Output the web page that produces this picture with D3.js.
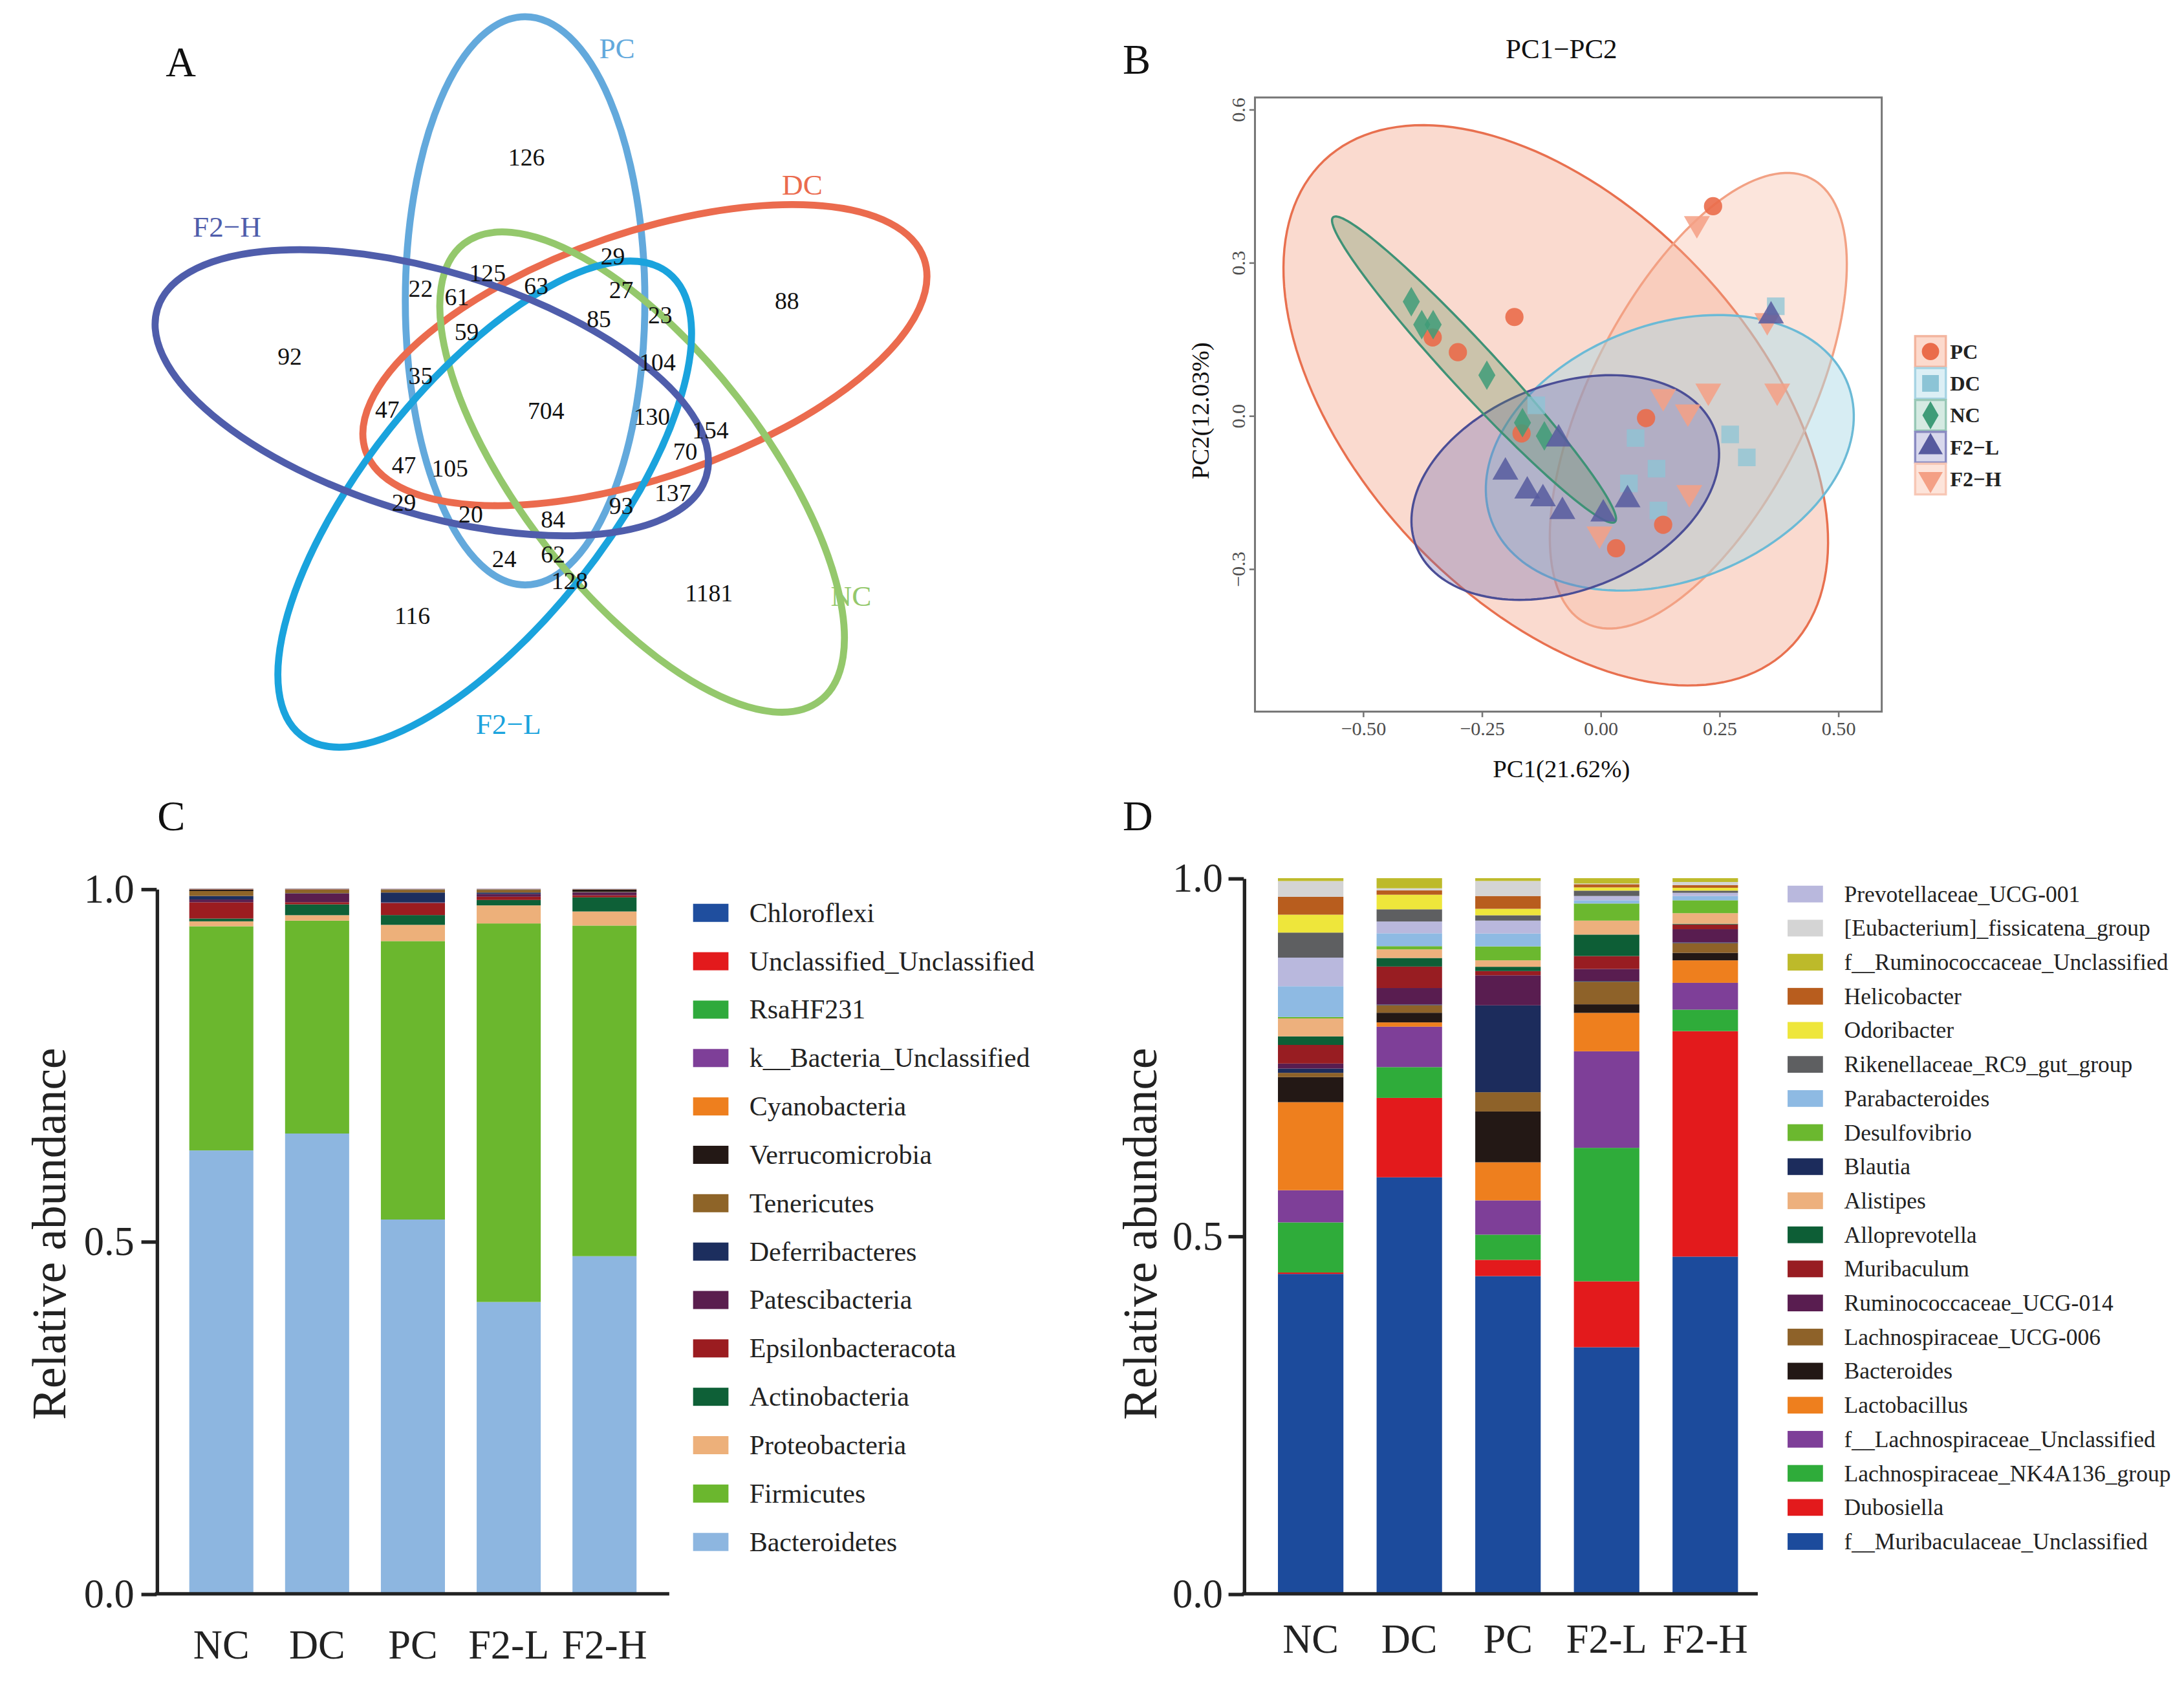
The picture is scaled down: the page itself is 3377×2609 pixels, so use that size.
<!DOCTYPE html>
<html>
<head>
<meta charset="utf-8">
<script src="https://cdn.jsdelivr.net/npm/d3@7"></script>
<style>
  body { margin: 0; background: #fff; }
</style>
</head>
<body>
<svg id="figure"></svg>
<script>
// ---------- data ----------
// A: Venn
var vennSets = ["PC", "DC", "NC", "F2\u2212L", "F2\u2212H"];
var vennColors = ["#63A9DC", "#EB6B4E", "#94C86C", "#1AA3DD", "#4F5DAB"];
var vennCounts = [126, 88, 1181, 116, 92, 29, 125, 22, 61, 63, 27, 85, 23, 59, 104,
                  35, 47, 704, 130, 154, 70, 47, 105, 137, 29, 20, 84, 93, 24, 62, 128];

// B: PCA
var pcaGroups = ["PC", "DC", "NC", "F2\u2212L", "F2\u2212H"];
var pcaPC  = [[0.237, 0.410], [-0.181, 0.193], [-0.353, 0.153], [-0.300, 0.124],
              [0.096, -0.005], [-0.166, -0.035], [0.132, -0.214], [0.033, -0.260]];
var pcaDC  = [[0.369, 0.214], [-0.135, 0.020], [0.074, -0.044], [0.273, -0.037],
              [0.308, -0.082], [0.118, -0.104], [0.060, -0.133], [0.122, -0.186]];
var pcaNC  = [[-0.398, 0.223], [-0.376, 0.178], [-0.352, 0.178], [-0.239, 0.079],
              [-0.164, -0.014], [-0.118, -0.040]];
var pcaF2L = [[0.359, 0.195], [-0.088, -0.046], [-0.200, -0.111], [-0.154, -0.148],
              [-0.121, -0.163], [-0.080, -0.188], [0.006, -0.193], [0.057, -0.165]];
var pcaF2H = [[0.203, 0.376], [0.132, 0.037], [0.227, 0.048], [0.372, 0.048],
              [0.184, 0.007], [0.187, -0.151], [-0.002, -0.232], [0.351, 0.186]];
// confidence ellipses: centre and two conjugate semi-axes (data units)
var ellPC  = {cx: -0.094, cy: 0.020,  ax: 0.487,  ay: -0.480, bx: -0.302, by: -0.266};
var ellDC  = {cx: 0.146,  cy: -0.073, ax: 0.375,  ay: 0.134,  bx: 0.0964, by: -0.2343};
var ellNC  = {cx: -0.266, cy: 0.090,  ax: 0.2966, ay: -0.2983, bx: -0.0366, by: -0.0314};
var ellF2L = {cx: -0.074, cy: -0.141, ax: 0.3139, ay: 0.1145, bx: 0.0791, by: -0.1879};
var ellF2H = {cx: 0.206,  cy: 0.029,  ax: 0.2365, ay: 0.4358, bx: 0.2043, by: -0.0960};

// C: phylum level (stack order, bottom -> top)
var groups = ["NC", "DC", "PC", "F2-L", "F2-H"];
var phyla = ["Bacteroidetes", "Firmicutes", "Proteobacteria", "Actinobacteria", "Epsilonbacteracota",
             "Patescibacteria", "Deferribacteres", "Tenericutes", "Verrucomicrobia", "Cyanobacteria",
             "k__Bacteria_Unclassified", "RsaHF231", "Unclassified_Unclassified", "Chloroflexi"];
var phylaColors = ["#8DB6E0", "#6BB72E", "#EDB07A", "#0E6037", "#9B1C20", "#5A1E4E", "#1C2E5E",
                   "#8E6428", "#231815", "#EE7F1E", "#7E3F98", "#2FAA3C", "#E31A1C", "#1F4E9E"];
var cNC  = [0.629, 0.318, 0.007, 0.004, 0.023, 0.004, 0.005, 0.007, 0.002, 0.0005, 0.0003, 0.0002, 0.0002, 0.0002];
var cDC  = [0.653, 0.302, 0.0077, 0.0154, 0.003, 0.0123, 0.0005, 0.005, 0.0003, 0.0003, 0.0003, 0.0002, 0.0002, 0.0002];
var cPC  = [0.531, 0.395, 0.023, 0.0139, 0.017, 0.001, 0.014, 0.0037, 0.0003, 0.0003, 0.0003, 0.0002, 0.0002, 0.0002];
var cF2L = [0.414, 0.537, 0.0256, 0.0077, 0.0046, 0.004, 0.002, 0.0037, 0.0003, 0.0003, 0.0003, 0.0002, 0.0002, 0.0002];
var cF2H = [0.479, 0.469, 0.020, 0.020, 0.003, 0.004, 0.0005, 0.0005, 0.0028, 0.0003, 0.0003, 0.0002, 0.0002, 0.0002];

// D: genus level (stack order, bottom -> top)
var genera = ["f__Muribaculaceae_Unclassified", "Dubosiella", "Lachnospiraceae_NK4A136_group",
              "f__Lachnospiraceae_Unclassified", "Lactobacillus", "Bacteroides", "Lachnospiraceae_UCG-006",
              "Blautia", "Ruminococcaceae_UCG-014", "Muribaculum", "Alloprevotella", "Alistipes",
              "Desulfovibrio", "Parabacteroides", "Prevotellaceae_UCG-001", "Rikenellaceae_RC9_gut_group",
              "Odoribacter", "Helicobacter", "[Eubacterium]_fissicatena_group", "f__Ruminococcaceae_Unclassified"];
var generaColors = ["#1C4B9C", "#E31A1C", "#2FAC3A", "#7E3F98", "#EE7F1E", "#231815", "#8E6229",
                    "#1C2C5C", "#591D50", "#981D22", "#0D5E36", "#EDB07D", "#6BB82F", "#8EBAE3",
                    "#B9B8DD", "#5E5F61", "#EEE63B", "#B85D1E", "#D4D4D4", "#BDBA2A"];
var generaLegend = ["Prevotellaceae_UCG-001", "[Eubacterium]_fissicatena_group", "f__Ruminococcaceae_Unclassified",
                    "Helicobacter", "Odoribacter", "Rikenellaceae_RC9_gut_group", "Parabacteroides",
                    "Desulfovibrio", "Blautia", "Alistipes", "Alloprevotella", "Muribaculum",
                    "Ruminococcaceae_UCG-014", "Lachnospiraceae_UCG-006", "Bacteroides", "Lactobacillus",
                    "f__Lachnospiraceae_Unclassified", "Lachnospiraceae_NK4A136_group", "Dubosiella",
                    "f__Muribaculaceae_Unclassified"];
var dNC  = [0.447, 0.002, 0.070, 0.045, 0.123, 0.035, 0.006, 0.006, 0.007, 0.026, 0.012, 0.025, 0.002, 0.043, 0.040, 0.035, 0.025, 0.025, 0.022, 0.004];
var dDC  = [0.582, 0.111, 0.043, 0.0565, 0.006, 0.0135, 0.0105, 0.001, 0.023, 0.030, 0.012, 0.012, 0.0045, 0.018, 0.0165, 0.017, 0.0204, 0.006, 0.003, 0.0141];
var dPC  = [0.444, 0.0227, 0.0352, 0.0479, 0.0532, 0.071, 0.0269, 0.1214, 0.042, 0.0059, 0.006, 0.009, 0.0195, 0.018, 0.018, 0.0075, 0.009, 0.0179, 0.021, 0.0039];
var dF2L = [0.3446, 0.0921, 0.1865, 0.1349, 0.0537, 0.012, 0.0315, 0.001, 0.0169, 0.018, 0.030, 0.0195, 0.0239, 0.0045, 0.006, 0.0075, 0.0045, 0.0045, 0.001, 0.0074];
var dF2H = [0.4712, 0.3151, 0.030, 0.0375, 0.0314, 0.0105, 0.0135, 0.001, 0.0185, 0.0066, 0.001, 0.0148, 0.018, 0.006, 0.0045, 0.003, 0.004, 0.0036, 0.0045, 0.0053];

// ---------- layout ----------
var FONT = '"Liberation Serif", "Times New Roman", Times, serif';
var svg = d3.select("#figure")
    .attr("width", 3377).attr("height", 2609)
    .attr("viewBox", "0 0 1568 1211.4")
    .style("font-family", FONT);
svg.append("rect").attr("width", 1568).attr("height", 1211.4).attr("fill", "#fff");

function panelLetter(t, x, y) {
    svg.append("text").attr("x", x).attr("y", y).attr("font-size", 30).attr("fill", "#111").text(t);
}
panelLetter("A", 119, 55);
panelLetter("B", 806, 53);
panelLetter("C", 113, 596);
panelLetter("D", 806, 596);

// ---------- A: Venn ----------
var vennShape = [
    {cx: 377, cy: 216, a: 204, b: 86, angle: 90},
    {cx: 463, cy: 255, a: 212, b: 88, angle: -19},
    {cx: 461, cy: 339, a: 208, b: 87, angle: 52},
    {cx: 348, cy: 362, a: 212, b: 87, angle: -51.5},
    {cx: 310, cy: 282, a: 206, b: 87, angle: 17}
];
var vennNamePos = [[443, 35], [576, 133], [611, 428], [365, 520], [163, 163]];
var vennCountPos = [[378, 113], [565, 216], [509, 426], [296, 442], [208, 256],
    [440, 184], [350, 196], [302, 207], [328, 213], [385, 205], [446, 208], [430, 229],
    [474, 226], [335, 238], [472, 260], [302, 270], [278, 294], [392, 295], [468, 299],
    [510, 309], [492, 324], [290, 334], [323, 336], [483, 354], [290, 361], [338, 369],
    [397, 373], [446, 363], [362, 401], [397, 398], [409, 417]];

var venn = svg.append("g");
venn.selectAll("ellipse").data(vennShape).join("ellipse")
    .attr("cx", d => d.cx).attr("cy", d => d.cy)
    .attr("rx", d => d.a).attr("ry", d => d.b)
    .attr("transform", d => "rotate(" + d.angle + " " + d.cx + " " + d.cy + ")")
    .attr("fill", "none")
    .attr("stroke", (d, i) => vennColors[i])
    .attr("stroke-width", 5);
venn.selectAll("text.name").data(vennSets).join("text").attr("class", "name")
    .attr("x", (d, i) => vennNamePos[i][0]).attr("y", (d, i) => vennNamePos[i][1])
    .attr("text-anchor", "middle").attr("dominant-baseline", "central")
    .attr("font-size", 21).attr("fill", (d, i) => vennColors[i])
    .text(d => d);
venn.selectAll("text.count").data(vennCounts).join("text").attr("class", "count")
    .attr("x", (d, i) => vennCountPos[i][0]).attr("y", (d, i) => vennCountPos[i][1])
    .attr("text-anchor", "middle").attr("dominant-baseline", "central")
    .attr("font-size", 17.5).attr("fill", "#111")
    .text(d => d);

// ---------- B: PCA ----------
var bx = d3.scaleLinear().domain([-0.727, 0.592]).range([901, 1351]);
var by = d3.scaleLinear().domain([-0.580, 0.623]).range([511, 70]);
var pca = svg.append("g");

var ellipses = [
    {e: ellPC,  fill: "#F2997A", fo: 0.36, stroke: "#E8704F"},
    {e: ellF2H, fill: "#F7B49C", fo: 0.35, stroke: "#F2A184"},
    {e: ellDC,  fill: "#A6D6E5", fo: 0.45, stroke: "#6BBAD6"},
    {e: ellF2L, fill: "#6C68AC", fo: 0.33, stroke: "#4B4E96"},
    {e: ellNC,  fill: "#5F8E58", fo: 0.30, stroke: "#3E9276"}
];
var ellLine = d3.line().curve(d3.curveLinearClosed);
function ellPath(e) {
    var pts = d3.range(160).map(function (i) {
        var t = i / 160 * 2 * Math.PI;
        return [bx(e.cx + e.ax * Math.cos(t) + e.bx * Math.sin(t)),
                by(e.cy + e.ay * Math.cos(t) + e.by * Math.sin(t))];
    });
    return ellLine(pts);
}
pca.selectAll("path.ell").data(ellipses).join("path").attr("class", "ell")
    .attr("d", d => ellPath(d.e))
    .attr("fill", d => d.fill).attr("fill-opacity", d => d.fo)
    .attr("stroke", d => d.stroke).attr("stroke-width", 1.6);

var pointSets = [
    {pts: pcaF2H, type: d3.symbolTriangle, size: 150, rot: 180, color: "#F4A085", op: 0.85},
    {pts: pcaDC,  type: d3.symbolSquare,   size: 160, rot: 0,   color: "#8CC4D6", op: 0.75},
    {pts: pcaPC,  type: d3.symbolCircle,   size: 135, rot: 0,   color: "#EA6C4A", op: 0.9},
    {pts: pcaNC,  type: d3.symbolDiamond,  size: 130, rot: 0,   color: "#3F9C78", op: 0.85},
    {pts: pcaF2L, type: d3.symbolTriangle, size: 150, rot: 0,   color: "#565A9F", op: 0.85}
];
pointSets.forEach(function (s) {
    pca.append("g").selectAll("path").data(s.pts).join("path")
        .attr("d", d3.symbol().type(s.type).size(s.size))
        .attr("transform", d => "translate(" + bx(d[0]) + "," + by(d[1]) + ") rotate(" + s.rot + ")")
        .attr("fill", s.color).attr("fill-opacity", s.op);
});

pca.append("rect").attr("x", 901).attr("y", 70).attr("width", 450).attr("height", 441)
    .attr("fill", "none").attr("stroke", "#777").attr("stroke-width", 1.4);

var xAxB = pca.append("g").attr("transform", "translate(0,511)")
    .call(d3.axisBottom(bx).tickValues([-0.5, -0.25, 0, 0.25, 0.5]).tickFormat(d3.format(".2f"))
        .tickSize(4).tickPadding(3));
var yAxB = pca.append("g").attr("transform", "translate(901,0)")
    .call(d3.axisLeft(by).tickValues([-0.3, 0, 0.3, 0.6]).tickFormat(d3.format(".1f"))
        .tickSize(4).tickPadding(3));
[xAxB, yAxB].forEach(function (g) {
    g.select(".domain").remove();
    g.selectAll(".tick line").attr("stroke", "#777").attr("stroke-width", 1.2);
    g.selectAll(".tick text").attr("font-family", FONT).attr("font-size", 14).attr("fill", "#4D4D4D");
});
yAxB.selectAll(".tick text")
    .attr("transform", "rotate(-90)")
    .attr("x", 0).attr("y", -7).attr("dy", 0)
    .attr("text-anchor", "middle");

pca.append("text").attr("x", 1121).attr("y", 42).attr("text-anchor", "middle")
    .attr("font-size", 20).attr("fill", "#111").text("PC1\u2212PC2");
pca.append("text").attr("x", 1121).attr("y", 558).attr("text-anchor", "middle")
    .attr("font-size", 18).attr("fill", "#111").text("PC1(21.62%)");
pca.append("text").attr("transform", "translate(868,295) rotate(-90)").attr("text-anchor", "middle")
    .attr("font-size", 18).attr("fill", "#111").text("PC2(12.03%)");

// legend
var keyStyle = [
    {fill: "#FCDACD", stroke: "#F3B49E"},
    {fill: "#DCEFF5", stroke: "#A7D4E3"},
    {fill: "#D5EAE2", stroke: "#98C8B6"},
    {fill: "#D8D8EC", stroke: "#8A8BC1"},
    {fill: "#FDE4DA", stroke: "#F7C7B5"}
];
var keySym = [pointSets[2], pointSets[1], pointSets[3], pointSets[4], pointSets[0]];
var leg = pca.append("g");
pcaGroups.forEach(function (gname, i) {
    var cy = 252.4 + i * 22.9;
    leg.append("rect").attr("x", 1375).attr("y", cy - 11).attr("width", 22).attr("height", 22)
        .attr("fill", keyStyle[i].fill).attr("stroke", keyStyle[i].stroke).attr("stroke-width", 1.6);
    leg.append("path").attr("d", d3.symbol().type(keySym[i].type).size(keySym[i].size * 0.9))
        .attr("transform", "translate(1386," + cy + ") rotate(" + keySym[i].rot + ")")
        .attr("fill", keySym[i].color);
    leg.append("text").attr("x", 1400).attr("y", cy).attr("dominant-baseline", "central")
        .attr("font-size", 15).attr("font-weight", "bold").attr("fill", "#222").text(gname);
});

// ---------- C and D: stacked bars ----------
function stackedPanel(opt) {
    var g = svg.append("g");
    var y = d3.scaleLinear().domain([0, 1]).range([1144.5, opt.top]);
    var x = d3.scalePoint().domain(groups).range(opt.centers);
    var rows = groups.map(function (gn, gi) {
        var r = {group: gn};
        opt.keys.forEach(function (k, ki) { r[k] = opt.values[gi][ki]; });
        return r;
    });
    var color = d3.scaleOrdinal().domain(opt.keys).range(opt.colors);
    var series = d3.stack().keys(opt.keys)(rows);
    g.selectAll("g.layer").data(series).join("g").attr("class", "layer")
        .attr("fill", d => color(d.key))
        .selectAll("rect").data(d => d).join("rect")
        .attr("x", d => x(d.data.group) - opt.barW / 2)
        .attr("width", opt.barW)
        .attr("y", d => y(d[1]))
        .attr("height", d => Math.max(0, y(d[0]) - y(d[1])));

    var ax = g.append("g").attr("transform", "translate(" + opt.axisX + ",0)")
        .call(d3.axisLeft(y).tickValues([0, 0.5, 1]).tickFormat(d3.format(".1f"))
            .tickSize(11).tickSizeOuter(0).tickPadding(opt.pad));
    ax.select(".domain").attr("stroke", "#222").attr("stroke-width", 2.5);
    ax.selectAll(".tick line").attr("stroke", "#222").attr("stroke-width", 2.5);
    ax.selectAll(".tick text").attr("font-family", FONT).attr("font-size", 29).attr("fill", "#222");

    g.append("line").attr("x1", opt.axisX - 1.25).attr("x2", opt.axisEnd)
        .attr("y1", y(0)).attr("y2", y(0)).attr("stroke", "#222").attr("stroke-width", 2.5);
    g.selectAll("text.grp").data(groups).join("text").attr("class", "grp")
        .attr("x", d => x(d)).attr("y", opt.labelY).attr("text-anchor", "middle")
        .attr("font-size", 29).attr("fill", "#222").text(d => d);
    g.append("text").attr("transform", "translate(" + opt.titleX + ",886) rotate(-90)")
        .attr("text-anchor", "middle").attr("font-size", 34).attr("fill", "#222")
        .text("Relative abundance");

    var legend = g.append("g");
    opt.legend.forEach(function (name, i) {
        var cy = opt.legY + i * opt.legStep;
        legend.append("rect").attr("x", opt.swX).attr("y", cy - opt.swH / 2)
            .attr("width", opt.swW).attr("height", opt.swH).attr("fill", color(name));
        legend.append("text").attr("x", opt.txtX).attr("y", cy).attr("dominant-baseline", "central")
            .attr("font-size", opt.legFont).attr("fill", "#222").text(name);
    });
}

stackedPanel({
    keys: phyla, colors: phylaColors, values: [cNC, cDC, cPC, cF2L, cF2H],
    legend: phyla.slice().reverse(),
    top: 638.3, centers: [158.9, 434], barW: 46,
    axisX: 112.5, axisEnd: 480.5, pad: 5, labelY: 1191, titleX: 47,
    legY: 655.5, legStep: 34.75, swX: 497.6, swW: 25.4, swH: 13, txtX: 538, legFont: 19.5
});
stackedPanel({
    keys: genera, colors: generaColors, values: [dNC, dDC, dPC, dF2L, dF2H],
    legend: generaLegend,
    top: 630.6, centers: [941, 1224.3], barW: 47,
    axisX: 893, axisEnd: 1262, pad: 4, labelY: 1187, titleX: 830,
    legY: 642, legStep: 24.47, swX: 1283.4, swW: 25.4, swH: 12, txtX: 1324, legFont: 16.5
});
</script>
</body>
</html>
